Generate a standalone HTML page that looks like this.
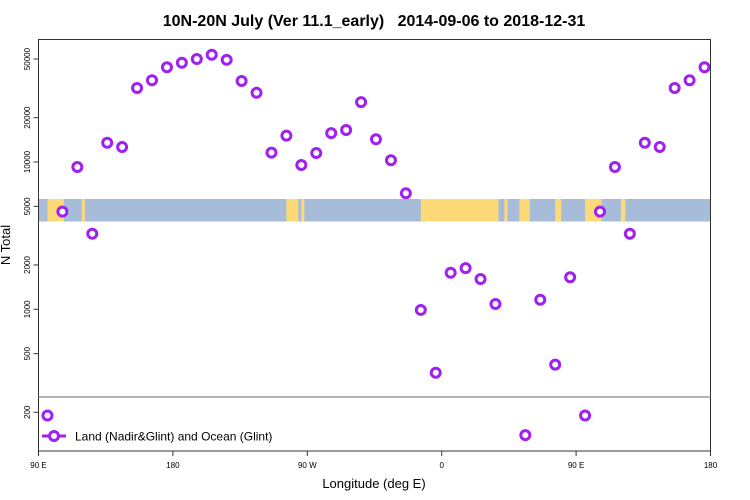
<!DOCTYPE html>
<html><head><meta charset="utf-8"><style>
body{margin:0;background:#fff;}
svg{display:block;font-family:"Liberation Sans",sans-serif;}
</style></head><body>
<svg id="chart" width="750" height="500" viewBox="0 0 750 500">
<text x="374" y="26" text-anchor="middle" font-size="16" font-weight="bold" style="white-space:pre">10N-20N July (Ver 11.1_early)   2014-09-06 to 2018-12-31</text>
<text x="374" y="488" text-anchor="middle" font-size="13">Longitude (deg E)</text>
<text transform="translate(10,245) rotate(-90)" text-anchor="middle" font-size="13">N Total</text>
<g id="map"></g>
<g id="axes"></g>
<g id="marks"></g>
<rect x="38.5" y="39.5" width="672" height="411.5" fill="none" stroke="#333" stroke-width="1"/>
<line x1="38.5" x2="710.5" y1="397" y2="397" stroke="#888" stroke-width="1.2"/>
<g>
<line x1="42" x2="66" y1="436" y2="436" stroke="#a020f0" stroke-width="3"/>
<circle cx="54" cy="436" r="4.5" fill="#fff" stroke="#a020f0" stroke-width="3"/>
<text x="75" y="440.5" font-size="12">Land (Nadir&amp;Glint) and Ocean (Glint)</text>
</g>
</svg>
<script>
const lons=[95,105,115,125,135,145,155,165,175,185,195,205,215,225,235,245,255,265,275,285,295,305,315,325,335,345,355,365,375,385,395,415,425,435,445,455,465,475,485,495,505,515,525,535];
const counts=[190,4600,9250,3260,13500,12650,31800,35900,44000,47200,50000,53500,49400,35500,29500,11570,15100,9550,11500,15700,16500,25500,14260,10270,6130,990,371,1770,1905,1605,1087,140,1162,421,1650,190,4600,9250,3260,13500,12650,31800,35900,44000];
const yTicks=[200,500,1000,2000,5000,10000,20000,50000];
const xTicks=[90,180,270,360,450,540];
const xTickLabels=["90 E","180","90 W","0","90 E","180"];
const X0=38.5,X1=710.5,LON0=90,LON1=540;
function xs(l){return X0+(l-LON0)*(X1-X0)/(LON1-LON0);}
function ys(v){return 162-147.3*(Math.log10(v)-4);}
const NS="http://www.w3.org/2000/svg";
function mk(t,a,p){const e=document.createElementNS(NS,t);for(const k in a)e.setAttribute(k,a[k]);p.appendChild(e);return e;}
const axes=document.getElementById('axes'),marks=document.getElementById('marks'),map=document.getElementById('map');
mk('rect',{x:X0,y:199,width:X1-X0,height:22.5,fill:'#a7bcd9'},map);
const land=[[96,107],[119,121],[256,264],[266,268],[346,398],[402,404],[412,419],[436,440],[456,467],[480,483]];
land.forEach(r=>{
const e=mk('rect',{x:xs(r[0]),y:199,width:xs(r[1])-xs(r[0]),height:22.5,fill:'#fed978'},map);


});
yTicks.forEach(v=>{
const y=ys(v);
const l=mk('line',{x1:X0-5,x2:X0,y1:y,y2:y,stroke:'#333'},axes);


const t=mk('text',{transform:`translate(30,${y}) rotate(-90)`,'text-anchor':'middle','font-size':'8'},axes);
t.textContent=v;


});
xTicks.forEach((v,i)=>{
const x=xs(v);
const l=mk('line',{x1:x,x2:x,y1:451,y2:456,stroke:'#333'},axes);


const t=mk('text',{x:x,y:468,'text-anchor':'middle','font-size':'8'},axes);
t.textContent=xTickLabels[i];


});
lons.forEach((l,i)=>{
const c=mk('circle',{cx:xs(l)+1.5,cy:ys(counts[i]),r:4.5,fill:'#fff',stroke:'#a020f0','stroke-width':3},marks);


});
</script>
</body></html>
